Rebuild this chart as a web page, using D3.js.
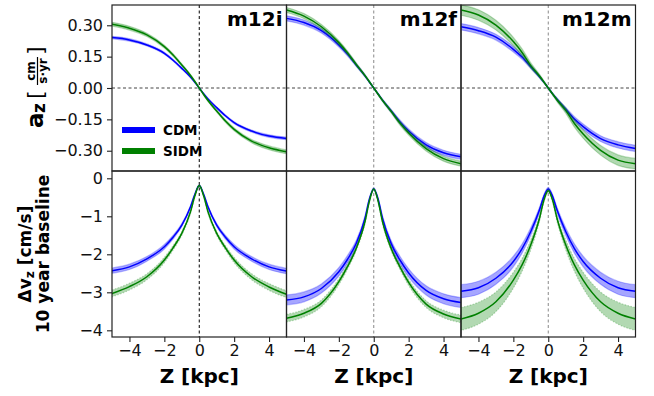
<!DOCTYPE html>
<html>
<head>
<meta charset="utf-8">
<script src="https://cdn.jsdelivr.net/npm/d3@7"></script>
<style>
  body { margin: 0; background: #fff; }
  text { font-family: "DejaVu Sans", sans-serif; }
</style>
</head>
<body>
<div id="chart"></div>
<script>
// z grid [kpc] shared by every curve
const zGrid = [-5, -4, -3, -2, -1.5, -1, -0.5, -0.25, 0, 0.25, 0.5, 1, 1.5, 2, 3, 4, 5];
const halos = ["m12i", "m12f", "m12m"];

// vertical acceleration a_z [cm/s/yr]
const accCdm_m12i = [0.241, 0.230, 0.206, 0.166, 0.133, 0.094, 0.052, 0.027, 0, -0.027, -0.052, -0.094, -0.133, -0.166, -0.206, -0.230, -0.241];
const accCdmErr_m12i = [0.006, 0.006, 0.005, 0.005, 0.004, 0.004, 0.003, 0.002, 0.002, 0.002, 0.003, 0.004, 0.004, 0.005, 0.005, 0.006, 0.006];
const accSidm_m12i = [0.305, 0.286, 0.254, 0.198, 0.158, 0.110, 0.060, 0.031, 0, -0.031, -0.060, -0.110, -0.158, -0.198, -0.254, -0.286, -0.305];
const accSidmErr_m12i = [0.009, 0.009, 0.008, 0.007, 0.006, 0.005, 0.004, 0.003, 0.002, 0.003, 0.004, 0.005, 0.006, 0.007, 0.008, 0.009, 0.009];

const accCdm_m12f = [0.333, 0.313, 0.274, 0.206, 0.162, 0.110, 0.058, 0.029, 0, -0.029, -0.058, -0.110, -0.162, -0.206, -0.272, -0.310, -0.329];
const accCdmErr_m12f = [0.012, 0.012, 0.011, 0.010, 0.009, 0.007, 0.005, 0.003, 0.002, 0.003, 0.005, 0.007, 0.009, 0.010, 0.011, 0.012, 0.012];
const accSidm_m12f = [0.373, 0.344, 0.293, 0.217, 0.168, 0.112, 0.059, 0.030, 0, -0.030, -0.059, -0.112, -0.168, -0.215, -0.290, -0.338, -0.362];
const accSidmErr_m12f = [0.012, 0.012, 0.011, 0.010, 0.009, 0.007, 0.005, 0.003, 0.002, 0.003, 0.005, 0.007, 0.009, 0.010, 0.011, 0.012, 0.012];

const accCdm_m12m = [0.293, 0.274, 0.243, 0.185, 0.148, 0.102, 0.054, 0.028, 0, -0.028, -0.054, -0.102, -0.148, -0.185, -0.242, -0.272, -0.289];
const accCdmErr_m12m = [0.015, 0.015, 0.014, 0.013, 0.011, 0.009, 0.006, 0.004, 0.003, 0.004, 0.006, 0.009, 0.011, 0.013, 0.014, 0.015, 0.015];
const accSidm_m12m = [0.373, 0.349, 0.301, 0.222, 0.170, 0.107, 0.057, 0.029, 0, -0.029, -0.057, -0.107, -0.170, -0.220, -0.298, -0.345, -0.362];
const accSidmErr_m12m = [0.025, 0.025, 0.023, 0.020, 0.017, 0.013, 0.008, 0.005, 0.003, 0.005, 0.008, 0.013, 0.017, 0.020, 0.023, 0.025, 0.025];

// velocity change over a 10 year baseline [cm/s]
const dvCdm_m12i = [-2.43, -2.33, -2.12, -1.80, -1.55, -1.23, -0.75, -0.42, -0.19, -0.42, -0.75, -1.23, -1.55, -1.80, -2.12, -2.33, -2.44];
const dvCdmErr_m12i = [0.07, 0.07, 0.06, 0.06, 0.05, 0.04, 0.03, 0.02, 0.02, 0.02, 0.03, 0.04, 0.05, 0.06, 0.06, 0.07, 0.07];
const dvSidm_m12i = [-3.03, -2.85, -2.59, -2.15, -1.83, -1.45, -0.88, -0.46, -0.19, -0.46, -0.88, -1.45, -1.83, -2.15, -2.59, -2.86, -3.05];
const dvSidmErr_m12i = [0.09, 0.09, 0.08, 0.07, 0.06, 0.05, 0.04, 0.03, 0.02, 0.03, 0.04, 0.05, 0.06, 0.07, 0.08, 0.09, 0.09];

const dvCdm_m12f = [-3.20, -3.12, -2.90, -2.46, -2.13, -1.71, -1.05, -0.55, -0.28, -0.55, -1.05, -1.72, -2.15, -2.49, -2.95, -3.17, -3.27];
const dvCdmErr_m12f = [0.13, 0.13, 0.12, 0.11, 0.10, 0.08, 0.06, 0.04, 0.03, 0.04, 0.06, 0.08, 0.10, 0.11, 0.12, 0.13, 0.13];
const dvSidm_m12f = [-3.68, -3.55, -3.29, -2.72, -2.32, -1.84, -1.14, -0.60, -0.28, -0.60, -1.14, -1.85, -2.33, -2.74, -3.31, -3.57, -3.70];
const dvSidmErr_m12f = [0.10, 0.10, 0.09, 0.08, 0.07, 0.06, 0.05, 0.03, 0.02, 0.03, 0.05, 0.06, 0.07, 0.08, 0.09, 0.10, 0.10];

const dvCdm_m12m = [-2.97, -2.88, -2.63, -2.19, -1.85, -1.40, -0.83, -0.48, -0.28, -0.48, -0.83, -1.40, -1.85, -2.19, -2.63, -2.88, -2.97];
const dvCdmErr_m12m = [0.17, 0.17, 0.16, 0.14, 0.12, 0.10, 0.07, 0.05, 0.04, 0.05, 0.07, 0.10, 0.12, 0.14, 0.16, 0.17, 0.17];
const dvSidm_m12m = [-3.70, -3.55, -3.25, -2.68, -2.28, -1.75, -1.05, -0.58, -0.33, -0.58, -1.05, -1.75, -2.28, -2.68, -3.25, -3.55, -3.70];
const dvSidmErr_m12m = [0.30, 0.29, 0.26, 0.21, 0.17, 0.13, 0.08, 0.05, 0.04, 0.05, 0.08, 0.13, 0.17, 0.21, 0.26, 0.29, 0.30];

const xTicks = [-4, -2, 0, 2, 4];
const accTicks = [0.30, 0.15, 0, -0.15, -0.30];
const dvTicks = [0, -1, -2, -3, -4];

const series = {
  m12i: { acc: [[accCdm_m12i, accCdmErr_m12i], [accSidm_m12i, accSidmErr_m12i]], dv: [[dvCdm_m12i, dvCdmErr_m12i], [dvSidm_m12i, dvSidmErr_m12i]] },
  m12f: { acc: [[accCdm_m12f, accCdmErr_m12f], [accSidm_m12f, accSidmErr_m12f]], dv: [[dvCdm_m12f, dvCdmErr_m12f], [dvSidm_m12f, dvSidmErr_m12f]] },
  m12m: { acc: [[accCdm_m12m, accCdmErr_m12m], [accSidm_m12m, accSidmErr_m12m]], dv: [[dvCdm_m12m, dvCdmErr_m12m], [dvSidm_m12m, dvSidmErr_m12m]] }
};
const colors = ["#0000ff", "#008000"];
const bandOpacity = [0.35, 0.3];

const dims = { width: 654, height: 396, left: 112, panelW: 174.5, top: 5, panelH: 166 };

const svg = d3.select("#chart").append("svg")
  .attr("width", dims.width)
  .attr("height", dims.height);

const x = d3.scaleLinear().domain([-5, 5]).range([0, dims.panelW]);
const yAcc = d3.scaleLinear().domain([-0.397, 0.397]).range([dims.panelH, 0]);
const yDv = d3.scaleLinear().domain([-4.176, 0.192]).range([dims.panelH, 0]);

function drawPanel(g, y, curves, isTop, col) {
  g.append("clipPath").attr("id", `clip-${col}-${isTop}`)
    .append("rect").attr("width", dims.panelW).attr("height", dims.panelH);
  const inner = g.append("g").attr("clip-path", `url(#clip-${col}-${isTop})`);

  const dashColor = col === 0 ? "#000" : "#888";
  inner.append("line")
    .attr("x1", x(0)).attr("x2", x(0)).attr("y1", 0).attr("y2", dims.panelH)
    .attr("stroke", dashColor).attr("stroke-width", 1).attr("stroke-dasharray", "3,2.5");
  if (isTop) {
    inner.append("line")
      .attr("x1", 0).attr("x2", dims.panelW).attr("y1", y(0)).attr("y2", y(0))
      .attr("stroke", "#444").attr("stroke-width", 1).attr("stroke-dasharray", "3,2.5");
  }

  curves.forEach(([vals, errs], k) => {
    const pts = zGrid.map((z, i) => ({ z, v: vals[i], e: errs[i] }));
    const area = d3.area()
      .x(d => x(d.z))
      .y0(d => y(d.v - d.e))
      .y1(d => y(d.v + d.e))
      .curve(d3.curveMonotoneX);
    const line = d3.line()
      .x(d => x(d.z))
      .y(d => y(d.v))
      .curve(d3.curveMonotoneX);
    inner.append("path")
      .attr("d", area(pts))
      .attr("fill", colors[k])
      .attr("fill-opacity", bandOpacity[k])
      .attr("stroke", colors[k])
      .attr("stroke-opacity", 0.25)
      .attr("stroke-width", 1.2)
      .attr("stroke-dasharray", (!isTop && k === 1) ? "1.5,1.5" : null);
    inner.append("path")
      .attr("d", line(pts))
      .attr("fill", "none")
      .attr("stroke", colors[k])
      .attr("stroke-width", 1.5);
  });

  g.append("rect")
    .attr("width", dims.panelW).attr("height", dims.panelH)
    .attr("fill", "none").attr("stroke", "#222").attr("stroke-width", 1.2);

  if (col === 0) {
    const fmt = isTop ? d3.format(".2f") : d3.format("d");
    g.append("g")
      .call(d3.axisLeft(y).tickValues(isTop ? accTicks : dvTicks).tickFormat(fmt).tickSize(5).tickPadding(4))
      .call(a => a.select(".domain").remove())
      .call(a => a.selectAll("line").attr("stroke", "#222").attr("stroke-width", 1.1))
      .call(a => a.selectAll("text").attr("font-size", 16).attr("fill", "#111")
        .attr("font-family", "DejaVu Sans"));
  }
  if (!isTop) {
    g.append("g")
      .attr("transform", `translate(0,${dims.panelH})`)
      .call(d3.axisBottom(x).tickValues(xTicks).tickFormat(d3.format("d")).tickSize(5).tickPadding(3))
      .call(a => a.select(".domain").remove())
      .call(a => a.selectAll("line").attr("stroke", "#222").attr("stroke-width", 1.1))
      .call(a => a.selectAll("text").attr("font-size", 16).attr("fill", "#111")
        .attr("font-family", "DejaVu Sans"));
    g.append("text")
      .attr("x", dims.panelW / 2).attr("y", dims.panelH + 46)
      .attr("text-anchor", "middle")
      .attr("font-size", 20).attr("font-weight", "bold")
      .text("Z [kpc]");
  } else {
    g.append("text")
      .attr("x", dims.panelW - 4).attr("y", 21)
      .attr("text-anchor", "end")
      .attr("font-family", "DejaVu Serif").attr("font-size", 20).attr("font-weight", "bold")
      .text(halos[col]);
  }
}

halos.forEach((h, col) => {
  const gx = dims.left + col * dims.panelW;
  const gTop = svg.append("g").attr("transform", `translate(${gx},${dims.top})`);
  drawPanel(gTop, yAcc, series[h].acc, true, col);
  const gBot = svg.append("g").attr("transform", `translate(${gx},${dims.top + dims.panelH})`);
  drawPanel(gBot, yDv, series[h].dv, false, col);
});

// legend in the first top panel
const legend = svg.append("g").attr("transform", `translate(${dims.left + 10},${dims.top + 125})`);
["CDM", "SIDM"].forEach((name, k) => {
  legend.append("line")
    .attr("x1", 0).attr("x2", 33).attr("y1", k * 21).attr("y2", k * 21)
    .attr("stroke", colors[k]).attr("stroke-width", 6);
  legend.append("text")
    .attr("x", 41).attr("y", k * 21 + 5)
    .attr("font-size", 13.5).attr("font-weight", "bold")
    .text(name);
});

// y label, top row: a_z [cm / (s·yr)]
const yl1 = svg.append("g").attr("transform", `translate(43,${dims.top + dims.panelH / 2}) rotate(-90)`);
yl1.append("text").attr("x", -40).attr("y", 0)
  .attr("font-size", 23).attr("font-weight", "bold").text("a");
yl1.append("text").attr("x", -25).attr("y", 2)
  .attr("font-size", 17).attr("font-weight", "bold").text("z");
yl1.append("text").attr("x", -11).attr("y", 0)
  .attr("font-size", 22).text("[");
yl1.append("text").attr("x", 17).attr("y", -8)
  .attr("text-anchor", "middle").attr("font-size", 12).attr("font-weight", "bold").text("cm");
yl1.append("line").attr("x1", 3).attr("x2", 31).attr("y1", -5.5).attr("y2", -5.5)
  .attr("stroke", "#000").attr("stroke-width", 1.2);
yl1.append("text").attr("x", 17).attr("y", 4)
  .attr("text-anchor", "middle").attr("font-size", 12).attr("font-weight", "bold").text("s·yr");
yl1.append("text").attr("x", 33).attr("y", 0)
  .attr("font-size", 22).text("]");

// y label, bottom row (two centred lines)
const yl2 = svg.append("g").attr("transform", `translate(0,${dims.top + dims.panelH * 1.5}) rotate(-90)`);
const line1 = yl2.append("text").attr("x", 0).attr("y", 31)
  .attr("text-anchor", "middle").attr("font-size", 17).attr("font-weight", "bold");
line1.append("tspan").text("Δv");
line1.append("tspan").attr("font-size", 12).attr("dy", 3).text("z");
line1.append("tspan").attr("dy", -3).text(" [cm/s]");
yl2.append("text").attr("x", 0).attr("y", 49)
  .attr("text-anchor", "middle").attr("font-size", 17).attr("font-weight", "bold")
  .text("10 year baseline");
</script>
</body>
</html>
